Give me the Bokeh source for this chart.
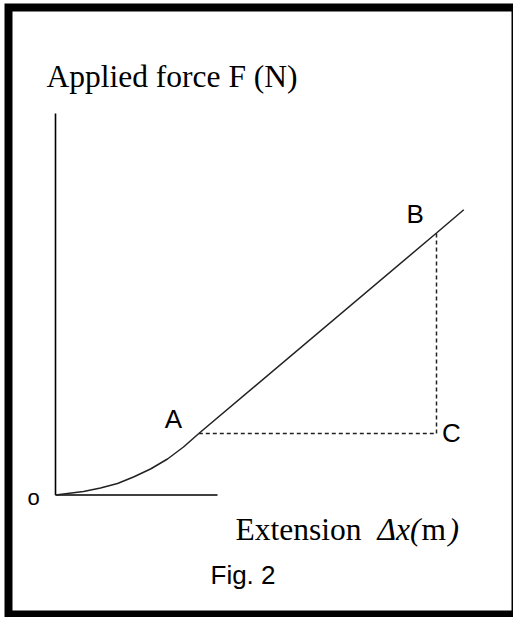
from bokeh.plotting import figure
from bokeh.models import Range1d, Label
from bokeh.embed import file_html
from bokeh.resources import INLINE

# ---- data (arbitrary units: extension / force) ----
curve_x = [0.0, 1.0, 2.8, 4.5, 6.2, 7.8, 9.5, 11.2, 12.8, 14.33]
curve_F = [0.0, 0.12, 0.36, 0.7, 1.15, 1.8, 2.6, 3.6, 4.8, 6.15]
line_x = [14.33, 38.1, 40.83]
line_F = [6.15, 26.2, 28.52]
point_names = ["A", "B", "C"]
point_x = [14.33, 38.1, 38.1]
point_F = [6.15, 26.2, 6.15]
x_axis_end = 16.2
y_axis_end = 38.15

p = figure(width=513, height=617, output_backend="svg", toolbar_location=None,
           x_range=Range1d(-5.5, 45.8), y_range=Range1d(-12.25, 49.45),
           min_border=0, min_border_left=0, min_border_right=0,
           min_border_top=0, min_border_bottom=0)
p.xaxis.visible = False
p.yaxis.visible = False
p.xgrid.visible = False
p.ygrid.visible = False
p.outline_line_color = None
p.background_fill_color = "white"
p.border_fill_color = "white"

# picture frame
p.quad(left=-4.7, right=46.0, top=48.75, bottom=-11.95, fill_color=None,
       line_color="black", line_width=8, line_join="miter")

# axes
p.line([0, 0], [0, y_axis_end], line_color="black", line_width=1.6)
p.line([0, x_axis_end], [0, 0], line_color="black", line_width=1.6)

# curve O -> A, straight A -> B
p.line(curve_x, curve_F, line_color="#222222", line_width=1.5, line_join="round")
p.line(line_x, line_F, line_color="#222222", line_width=1.5)

# dashed A -> C -> B
p.line([point_x[0], point_x[2]], [point_F[0], point_F[2]], line_color="#222222",
       line_width=1.5, line_dash="4 3")
p.line([point_x[2], point_x[1]], [point_F[2], point_F[1]], line_color="#222222",
       line_width=1.5, line_dash="4 3")

sans = "Liberation Sans"
serif = "Liberation Serif"
dy = 0.9  # compensates renderer's text baseline offset

def lab(x, y, t, font, size, style="normal"):
    p.add_layout(Label(x=x, y=y + dy, text=t, text_font=font, text_font_size=size,
                       text_font_style=style, text_color="black",
                       text_align="left", text_baseline="alphabetic"))

# point labels
lab(point_x[0] - 3.4, point_F[0] + 0.6, point_names[0], sans, "26px")
lab(point_x[1] - 3.0, point_F[1] + 1.05, point_names[1], sans, "26px")
lab(point_x[2] + 0.55, point_F[2] - 0.85, point_names[2], sans, "26px")
lab(-2.8, -1.15, "o", sans, "22px")

# axis titles
lab(-0.9, 40.95, "Applied force F (N)", serif, "31.5px")
lab(18.0, -4.35, "Extension", serif, "31.5px")
lab(32.2, -4.35, "\u0394x(", serif, "31.5px", "italic")
lab(36.6, -4.35, "m", serif, "31.5px")
lab(39.3, -4.35, ")", serif, "31.5px", "italic")

# caption
lab(15.5, -8.85, "Fig. 2", sans, "26px")

open("out.html", "w").write(file_html(p, INLINE))
